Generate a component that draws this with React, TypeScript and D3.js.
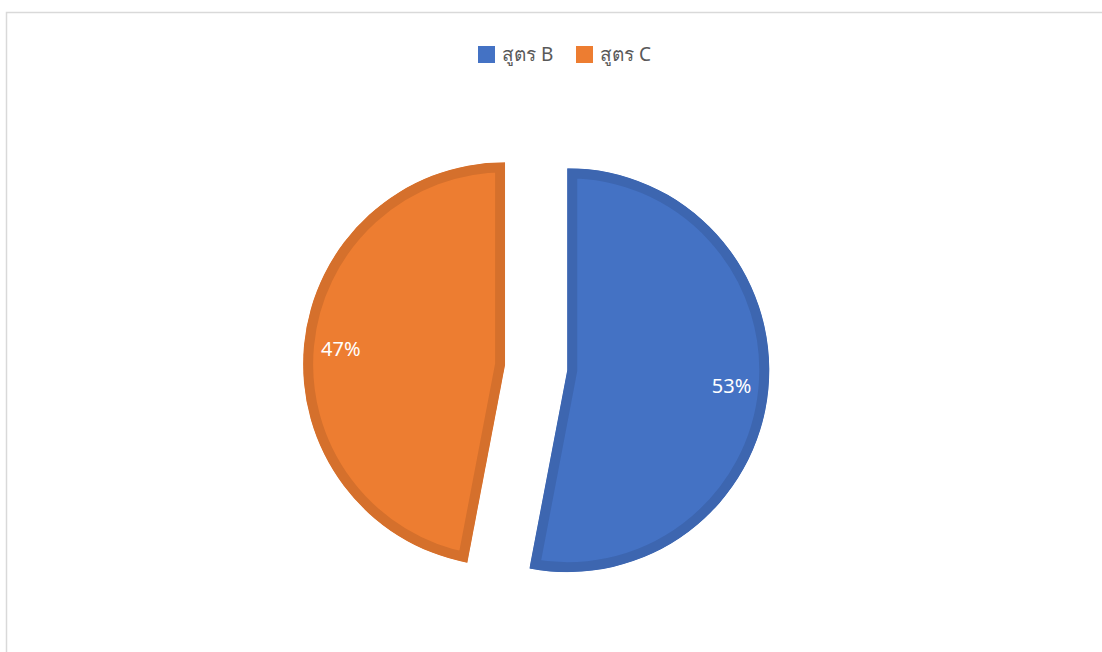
import React from "react";
import * as d3 from "d3";

const categories = ["สูตร B", "สูตร C"];
const values = [53, 47];
const labels = ["53%", "47%"];
const fills = ["#4472C4", "#ED7D31"];
const strokes = ["#3D66B0", "#D5702C"];

const W = 1102;
const H = 652;

export default function App() {
  const cx = 536.2;
  const cy = 367.2;
  const r = 202;
  const sw = 10;
  const explode = 31.2;
  const pie = d3.pie<number>().sort(null).value((d) => d);
  const arcs = pie(values);
  const arcGen = d3.arc<d3.PieArcDatum<number>>().innerRadius(0).outerRadius(r);
  const font = "'Segoe UI', 'Noto Sans', 'DejaVu Sans', sans-serif";

  const legendX = [478, 576];
  return (
    <svg
      width={W}
      height={H}
      style={{ position: "absolute", left: 0, top: 0, background: "#fff" }}
    >
      <defs>
        {arcs.map((a, i) => (
          <clipPath id={`clip-${i}`} key={i}>
            <path d={arcGen(a) || ""} />
          </clipPath>
        ))}
      </defs>
      <rect x={6.5} y={12.5} width={1200} height={700} fill="#fff" stroke="#d9d9d9" strokeWidth={1.5} />
      {categories.map((c, i) => (
        <g key={c}>
          <rect x={legendX[i]} y={46} width={17} height={17} fill={fills[i]} />
          <text
            x={legendX[i] + 24}
            y={61}
            fontFamily={font}
            fontSize={19}
            fill="#595959"
          >
            {c}
          </text>
        </g>
      ))}
      {arcs.map((a, i) => {
        const mid = (a.startAngle + a.endAngle) / 2;
        const dx = Math.sin(mid) * explode;
        const dy = -Math.cos(mid) * explode;
        const lr = 165;
        const lx = Math.sin(mid) * lr;
        const ly = -Math.cos(mid) * lr;
        return (
          <g key={i} transform={`translate(${cx + dx},${cy + dy})`}>
            <path
              d={arcGen(a) || ""}
              fill={fills[i]}
              stroke={strokes[i]}
              strokeWidth={sw * 2}
              strokeLinejoin="miter"
              clipPath={`url(#clip-${i})`}
            />
            <text
              x={lx}
              y={ly}
              textAnchor="middle"
              dominantBaseline="central"
              fontFamily={font}
              fontSize={20}
              fill="#ffffff"
            >
              {labels[i]}
            </text>
          </g>
        );
      })}
    </svg>
  );
}
